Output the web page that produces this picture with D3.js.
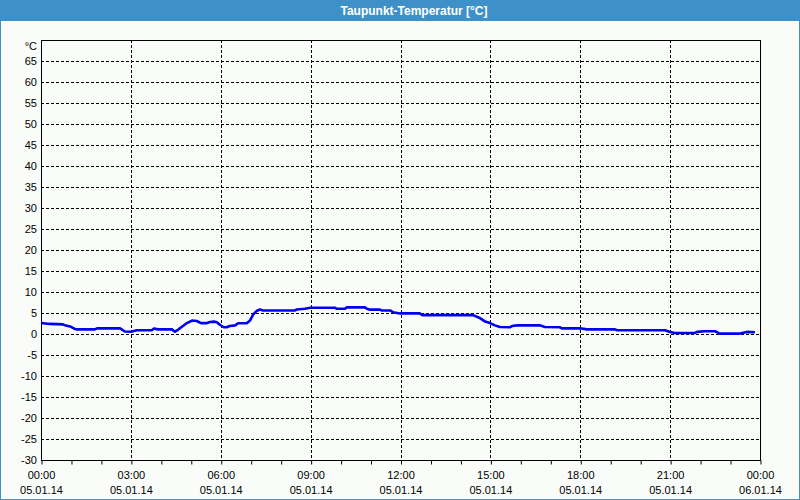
<!DOCTYPE html>
<html>
<head>
<meta charset="utf-8">
<script src="https://cdn.jsdelivr.net/npm/d3@7"></script>
<style>
  body { margin: 0; background: #ffffff; }
  text { font-family: Tahoma, "Liberation Sans", sans-serif; font-size: 11px; }
</style>
</head>
<body>
<div id="vis"></div>
<script>
const FRAME_WIDTH = 800;
const FRAME_HEIGHT = 500;
const MARGINS = {left: 41, right: 40, top: 40, bottom: 40};

// dew point, hours since 05.01.14 00:00
const hours = [0, 0.3, 0.73, 0.83, 0.97, 1.13, 1.2, 1.8, 1.87, 2.64, 2.8, 3.0, 3.2, 3.7,
  3.77, 3.9, 4.37, 4.47, 4.57, 4.87, 5.04, 5.2, 5.34, 5.54, 5.64, 5.77, 5.87, 5.97,
  6.1, 6.2, 6.3, 6.48, 6.58, 6.88, 6.98, 7.08, 7.21, 7.31, 7.41, 8.48, 8.54, 8.81,
  8.98, 9.81, 9.88, 10.15, 10.21, 10.81, 10.88, 10.98, 11.31, 11.38, 11.65, 11.75,
  11.98, 12.65, 12.72, 14.42, 14.65, 14.82, 14.99, 15.15, 15.32, 15.65, 15.72, 15.89,
  16.66, 16.82, 17.32, 17.39, 17.99, 18.22, 19.16, 19.23, 20.83, 21.0, 21.16, 21.83,
  21.9, 22.16, 22.5, 22.66, 23.33, 23.56, 23.83];
const dewPoint = [2.6, 2.4, 2.3, 2.0, 1.8, 1.2, 1.1, 1.1, 1.35, 1.35, 0.6, 0.55, 0.9, 0.9,
  1.3, 1.1, 1.1, 0.55, 1.0, 2.6, 3.2, 3.1, 2.6, 2.6, 2.85, 2.95, 2.8, 2.2,
  1.6, 1.6, 1.9, 2.05, 2.55, 2.6, 3.25, 4.6, 5.55, 5.85, 5.6, 5.6, 5.85, 6.0,
  6.25, 6.25, 6.0, 6.0, 6.35, 6.35, 6.0, 5.8, 5.8, 5.6, 5.6, 5.2,
  4.9, 4.9, 4.5, 4.5, 3.8, 3.0, 2.6, 2.05, 1.65, 1.6, 1.9, 2.05,
  2.05, 1.65, 1.6, 1.35, 1.35, 1.1, 1.1, 0.9, 0.9, 0.5, 0.25, 0.25,
  0.5, 0.65, 0.65, 0.1, 0.1, 0.5, 0.4];

const yTicks = [-30, -25, -20, -15, -10, -5, 0, 5, 10, 15, 20, 25, 30, 35, 40, 45, 50, 55, 60, 65];
const xTicks = [0, 3, 6, 9, 12, 15, 18, 21, 24];
const timeLabels = ["00:00", "03:00", "06:00", "09:00", "12:00", "15:00", "18:00", "21:00", "00:00"];
const dateLabels = ["05.01.14", "05.01.14", "05.01.14", "05.01.14", "05.01.14",
  "05.01.14", "05.01.14", "05.01.14", "06.01.14"];

const FRAME1 = d3.select("#vis")
  .append("svg")
    .attr("width", FRAME_WIDTH)
    .attr("height", FRAME_HEIGHT);

// window frame + title bar
FRAME1.append("rect")
  .attr("x", 0.5).attr("y", 0.5)
  .attr("width", FRAME_WIDTH - 1).attr("height", FRAME_HEIGHT - 1)
  .attr("fill", "#f9fcf9")
  .attr("stroke", "#3d91c8");
FRAME1.append("rect")
  .attr("x", 0).attr("y", 0)
  .attr("width", FRAME_WIDTH).attr("height", 21)
  .attr("fill", "#3d91c8");
FRAME1.append("text")
  .attr("x", 414).attr("y", 15)
  .attr("text-anchor", "middle")
  .attr("fill", "#ffffff")
  .attr("font-weight", "bold")
  .style("font-size", "12px")
  .text("Taupunkt-Temperatur [°C]");

const X_SCALE = d3.scaleLinear()
  .domain([0, 24])
  .range([MARGINS.left, 760]);
const Y_SCALE = d3.scaleLinear()
  .domain([-30, 70])
  .range([460, MARGINS.top]);

// grid
FRAME1.append("g")
  .selectAll("line")
  .data(yTicks.filter((d) => d > -30))
  .enter()
  .append("line")
    .attr("x1", X_SCALE(0)).attr("x2", X_SCALE(24))
    .attr("y1", (d) => Math.round(Y_SCALE(d)) + 0.5)
    .attr("y2", (d) => Math.round(Y_SCALE(d)) + 0.5)
    .attr("stroke", "#000").attr("stroke-dasharray", "3,2");
FRAME1.append("g")
  .selectAll("line")
  .data(xTicks.slice(1, -1))
  .enter()
  .append("line")
    .attr("x1", (d) => Math.round(X_SCALE(d)) + 0.5)
    .attr("x2", (d) => Math.round(X_SCALE(d)) + 0.5)
    .attr("y1", Y_SCALE(70)).attr("y2", Y_SCALE(-30))
    .attr("stroke", "#000").attr("stroke-dasharray", "3,2");

// plot border
FRAME1.append("rect")
  .attr("x", X_SCALE(0) + 0.5).attr("y", Y_SCALE(70) + 0.5)
  .attr("width", X_SCALE(24) - X_SCALE(0)).attr("height", Y_SCALE(-30) - Y_SCALE(70))
  .attr("fill", "none").attr("stroke", "#000");

// hourly ticks under x axis
FRAME1.append("g")
  .attr("transform", "translate(0.5," + (Y_SCALE(-30) + 0.5) + ")")
  .call(d3.axisBottom(X_SCALE).ticks(24).tickSize(4).tickFormat(""))
  .call((g) => g.select(".domain").remove());

// y labels
FRAME1.append("g")
  .selectAll("text")
  .data(yTicks)
  .enter()
  .append("text")
    .attr("x", 37)
    .attr("y", (d) => Y_SCALE(d) + 4)
    .attr("text-anchor", "end")
    .attr("fill", "#000")
    .text((d) => d);
FRAME1.append("text")
  .attr("x", 37).attr("y", 50)
  .attr("text-anchor", "end")
  .text("°C");

// x labels
FRAME1.append("g")
  .selectAll("text")
  .data(xTicks)
  .enter()
  .append("text")
    .attr("x", (d) => X_SCALE(d) + 0.5)
    .attr("y", 479)
    .attr("text-anchor", "middle")
    .text((d, i) => timeLabels[i]);
FRAME1.append("g")
  .selectAll("text")
  .data(xTicks)
  .enter()
  .append("text")
    .attr("x", (d) => X_SCALE(d) + 0.5)
    .attr("y", 494)
    .attr("text-anchor", "middle")
    .text((d, i) => dateLabels[i]);

// dew point line
const LINE = d3.line()
  .x((d, i) => X_SCALE(hours[i]))
  .y((d) => Y_SCALE(d));
FRAME1.append("path")
  .attr("d", LINE(dewPoint))
  .attr("fill", "none")
  .attr("stroke", "#0000f0")
  .attr("stroke-width", 2.6)
  .attr("stroke-linejoin", "round");
</script>
</body>
</html>
